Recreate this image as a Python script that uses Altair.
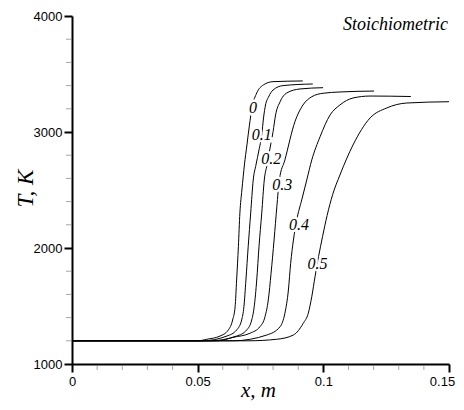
import altair as alt
import pandas as pd

# ---- data ----
curve_names = ["0", "0.1", "0.2", "0.3", "0.4", "0.5"]

x_0 = [0, 0.0500, 0.0536, 0.0589, 0.0622, 0.0639, 0.0649, 0.0655, 0.0662, 0.0668, 0.0676, 0.0686, 0.0696, 0.0706, 0.0716, 0.0735, 0.0761, 0.0800, 0.0918]
T_0 = [1200, 1200, 1213, 1241, 1293, 1379, 1494, 1724, 2011, 2302, 2500, 2716, 2888, 3060, 3207, 3336, 3405, 3434, 3440]

x_1 = [0, 0.0520, 0.0616, 0.0655, 0.0675, 0.0684, 0.0692, 0.0701, 0.0711, 0.0721, 0.0732, 0.0744, 0.0755, 0.0762, 0.0770, 0.0782, 0.0800, 0.0840, 0.0958]
T_1 = [1200, 1200, 1241, 1293, 1379, 1494, 1724, 2011, 2302, 2586, 2716, 2845, 2974, 3121, 3233, 3302, 3362, 3400, 3414]

x_2 = [0, 0.0550, 0.0655, 0.0695, 0.0715, 0.0725, 0.0735, 0.0744, 0.0755, 0.0765, 0.0776, 0.0788, 0.0800, 0.0810, 0.0828, 0.0854, 0.0907, 0.0999]
T_2 = [1200, 1200, 1241, 1293, 1379, 1494, 1724, 2011, 2302, 2586, 2716, 2862, 3003, 3147, 3261, 3336, 3371, 3382]

x_3 = [0, 0.0580, 0.0641, 0.0708, 0.0748, 0.0768, 0.0781, 0.0792, 0.0804, 0.0815, 0.0825, 0.0847, 0.0887, 0.0919, 0.0954, 0.0999, 0.1066, 0.1202]
T_3 = [1200, 1200, 1230, 1265, 1322, 1408, 1552, 1782, 2069, 2356, 2586, 2759, 3089, 3233, 3304, 3334, 3345, 3353]

x_4 = [0, 0.0640, 0.0775, 0.0828, 0.0847, 0.0861, 0.0870, 0.0881, 0.0894, 0.0914, 0.0934, 0.0954, 0.0987, 0.1027, 0.1066, 0.1118, 0.1186, 0.1348]
T_4 = [1200, 1200, 1250, 1322, 1437, 1638, 1868, 2069, 2241, 2414, 2586, 2759, 2959, 3147, 3233, 3293, 3310, 3306]

x_5 = [0, 0.0700, 0.0814, 0.0881, 0.0920, 0.0940, 0.0954, 0.0967, 0.0981, 0.0997, 0.1015, 0.1037, 0.1066, 0.1118, 0.1186, 0.1252, 0.1332, 0.1500]
T_5 = [1200, 1200, 1213, 1250, 1351, 1437, 1580, 1753, 1925, 2100, 2280, 2460, 2629, 2888, 3121, 3207, 3250, 3261]

label_x = [0.0720, 0.0755, 0.0793, 0.0837, 0.0903, 0.0977]
label_T = [3207, 2974, 2767, 2543, 2198, 1862]

x_major = [0, 0.05, 0.1, 0.15]
x_minor = [0.01, 0.02, 0.03, 0.04, 0.06, 0.07, 0.08, 0.09, 0.11, 0.12, 0.13, 0.14]
y_major = [1000, 2000, 3000, 4000]
y_minor = [1200, 1400, 1600, 1800, 2200, 2400, 2600, 2800, 3200, 3400, 3600, 3800]

# ---- build tables ----
xs = [x_0, x_1, x_2, x_3, x_4, x_5]
Ts = [T_0, T_1, T_2, T_3, T_4, T_5]
rows = []
for name, xx, tt in zip(curve_names, xs, Ts):
    for i, (a, b) in enumerate(zip(xx, tt)):
        rows.append({"curve": name, "i": i, "x": a, "T": b})
df = pd.DataFrame(rows)
labels = pd.DataFrame({"x": label_x, "T": label_T, "label": curve_names})
xminor_df = pd.DataFrame({"x": x_minor})
yminor_df = pd.DataFrame({"T": y_minor})

W, H = 377, 348
xscale = alt.Scale(domain=[0, 0.15], nice=False, zero=False)
yscale = alt.Scale(domain=[1000, 4000], nice=False, zero=False)

x_axis = alt.Axis(values=x_major, format="~g", orient="bottom", grid=False,
                  labelFlush=False, labelOverlap=False,
                  labelOffset=alt.condition("datum.value > 0.149", alt.value(-7), alt.value(0)),
                  tickSize=8, tickWidth=2, tickColor="black",
                  domainWidth=2, domainColor="black",
                  labelFont="Liberation Sans", labelFontSize=13, labelColor="black",
                  labelPadding=3,
                  title="x, m", titleFont="Liberation Serif", titleFontStyle="italic",
                  titleFontWeight="normal", titleFontSize=21, titleColor="black",
                  titleX=186, titleY=26, titleBaseline="middle", titleAlign="center")
y_axis = alt.Axis(values=y_major, format="d", orient="left", grid=False,
                  labelFlush=False, labelOverlap=False,
                  tickSize=8, tickWidth=2, tickColor="black",
                  domainWidth=2, domainColor="black",
                  labelFont="Liberation Sans", labelFontSize=13, labelColor="black",
                  labelPadding=2,
                  title="T, K", titleFont="Liberation Serif", titleFontStyle="italic",
                  titleFontWeight="normal", titleFontSize=23, titleColor="black",
                  titleX=-47, titleY=172, titleAngle=-90,
                  titleBaseline="middle", titleAlign="center")

lines = alt.Chart(df).mark_line(color="black", strokeWidth=1, interpolate="monotone").encode(
    x=alt.X("x:Q", scale=xscale, axis=x_axis),
    y=alt.Y("T:Q", scale=yscale, axis=y_axis),
    detail="curve:N",
    order="i:Q",
)

# minor ticks (axis decoration)
xminor = alt.Chart(xminor_df).mark_tick(color="#808080", thickness=1, size=5, clip=False).encode(
    x=alt.X("x:Q", scale=xscale),
    y=alt.value(H + 3.5),
)
yminor = alt.Chart(yminor_df).mark_tick(color="#808080", thickness=1, size=5, clip=False).encode(
    y=alt.Y("T:Q", scale=yscale),
    x=alt.value(-3.5),
)

halo = alt.Chart(labels).mark_text(font="Liberation Serif", fontStyle="italic", fontSize=16,
                                   color="white", stroke="white", strokeWidth=5).encode(
    x=alt.X("x:Q", scale=xscale),
    y=alt.Y("T:Q", scale=yscale),
    text="label:N",
)
text = alt.Chart(labels).mark_text(font="Liberation Serif", fontStyle="italic", fontSize=16,
                                   color="black").encode(
    x=alt.X("x:Q", scale=xscale),
    y=alt.Y("T:Q", scale=yscale),
    text="label:N",
)

title_df = pd.DataFrame({"t": ["Stoichiometric"]})
title = alt.Chart(title_df).mark_text(font="Liberation Serif", fontStyle="italic", fontSize=18,
                                      color="black", align="right", baseline="middle").encode(
    x=alt.value(376), y=alt.value(9), text="t:N")

chart = alt.layer(lines, xminor, yminor, halo, text, title).properties(
    width=W, height=H,
    autosize=alt.AutoSizeParams(type="none"),
    padding={"left": 64, "top": 8, "right": 6, "bottom": 38},
).configure_view(stroke=None)

chart.save("out.html", embed_options={"renderer": "svg", "actions": False})
